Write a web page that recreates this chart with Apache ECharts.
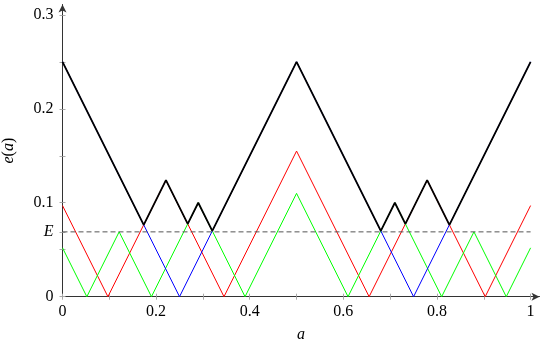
<!DOCTYPE html>
<html>
<head>
<meta charset="utf-8">
<title>e(a)</title>
<script src="https://cdn.jsdelivr.net/npm/echarts@6/dist/echarts.min.js"></script>
<style>
  html, body { margin: 0; padding: 0; background: #fff; }
  #chart { width: 545px; height: 341px; }
</style>
</head>
<body>
<div id="chart"></div>
<script>
// level of the dashed line
var E = 0.069;

// ticks and labels
var xTicks = [0, 0.1, 0.2, 0.3, 0.4, 0.5, 0.6, 0.7, 0.8, 0.9, 1];
var xLabels = [0, 0.2, 0.4, 0.6, 0.8, 1];
var yTicks = [0, 0.05, E, 0.1, 0.15, 0.2, 0.25, 0.3];
var yLabels = [0, E, 0.1, 0.2, 0.3];

// corners of each curve
var blackA = [0, 0.1735, 0.221, 0.2675, 0.29, 0.32, 0.5, 0.68, 0.71, 0.7325, 0.779, 0.8265, 1];
var blackE = [0.25, 0.0765, 0.124, 0.0775, 0.1, 0.07, 0.25, 0.07, 0.1, 0.0775, 0.124, 0.0765, 0.25];

var redA = [0, 0.097, 0.221, 0.345, 0.5, 0.655, 0.779, 0.903, 1];
var redE = [0.097, 0, 0.124, 0, 0.155, 0, 0.124, 0, 0.097];

var greenA = [0, 0.052, 0.121, 0.19, 0.29, 0.39, 0.5, 0.61, 0.71, 0.81, 0.879, 0.948, 1];
var greenE = [0.052, 0, 0.069, 0, 0.1, 0, 0.11, 0, 0.1, 0, 0.069, 0, 0.052];

var blueA = [0, 0.25, 0.5, 0.75, 1];
var blueE = [0.25, 0, 0.25, 0, 0.25];

var dashA = [0, 1];

var FONT = '"Liberation Serif", "DejaVu Serif", serif';
var ITALIC = { fontFamily: FONT, fontStyle: 'italic', fontSize: 16, color: '#000' };

function pairs(xs, ys) {
  return xs.map(function (x, i) { return [x, ys[i]]; });
}

function curve(name, xs, ys, color, width) {
  return {
    name: name,
    type: 'line',
    data: pairs(xs, ys),
    symbol: 'none',
    lineStyle: { color: color, width: width },
    z: name === 'e' ? 5 : 2
  };
}

function fmt(v) {
  if (Math.abs(v - E) < 1e-9) return '{i|E}';
  return String(+v.toFixed(2));
}

// pgfplots ticks cross the axis: one axis draws them inside, a twin outside
function xAxisOf(inside) {
  return {
    type: 'value', min: 0, max: 1.019, position: 'bottom',
    axisLine: {
      show: inside,
      symbol: ['none', 'arrow'], symbolSize: [6, 8],
      lineStyle: { color: '#333', width: 1 }
    },
    axisTick: { inside: inside, length: 3, customValues: xTicks, lineStyle: { color: '#aaa' } },
    axisLabel: {
      show: inside, customValues: xLabels, margin: 7, formatter: fmt,
      color: '#000', fontFamily: FONT, fontSize: 16
    },
    splitLine: { show: false },
    name: inside ? '{i|a}' : '', nameLocation: 'middle', nameGap: 30,
    nameTextStyle: { rich: { i: ITALIC } }
  };
}

function yAxisOf(inside) {
  return {
    type: 'value', min: 0, max: 0.311, position: 'left',
    axisLine: {
      show: inside,
      symbol: ['none', 'arrow'], symbolSize: [6, 8],
      lineStyle: { color: '#333', width: 1 }
    },
    axisTick: { inside: inside, length: 3, customValues: yTicks, lineStyle: { color: '#aaa' } },
    axisLabel: {
      show: inside, customValues: yLabels, margin: 9, formatter: fmt,
      color: '#000', fontFamily: FONT, fontSize: 16,
      rich: { i: ITALIC }
    },
    splitLine: { show: false },
    name: inside ? '{i|e}({i|a})' : '', nameLocation: 'middle', nameGap: 46, nameRotate: 90,
    nameTextStyle: { fontFamily: FONT, fontSize: 16, color: '#000', rich: { i: ITALIC } }
  };
}

var chart = echarts.init(document.getElementById('chart'));
chart.setOption({
  animation: false,
  backgroundColor: '#fff',
  grid: { left: 62.5, right: 5.5, top: 4.5, bottom: 44.3, outerBoundsMode: 'none' },
  xAxis: [xAxisOf(true), xAxisOf(false)],
  yAxis: [yAxisOf(true), yAxisOf(false)],
  series: [
    curve('red', redA, redE, '#ff0000', 1),
    curve('green', greenA, greenE, '#00ff00', 1),
    curve('blue', blueA, blueE, '#0000ff', 1),
    {
      name: 'E', type: 'line', symbol: 'none', z: 3,
      data: pairs(dashA, [E, E]),
      lineStyle: { color: '#555', width: 1, type: [5, 3] }
    },
    curve('e', blackA, blackE, '#000', 1.8)
  ]
});
</script>
</body>
</html>
